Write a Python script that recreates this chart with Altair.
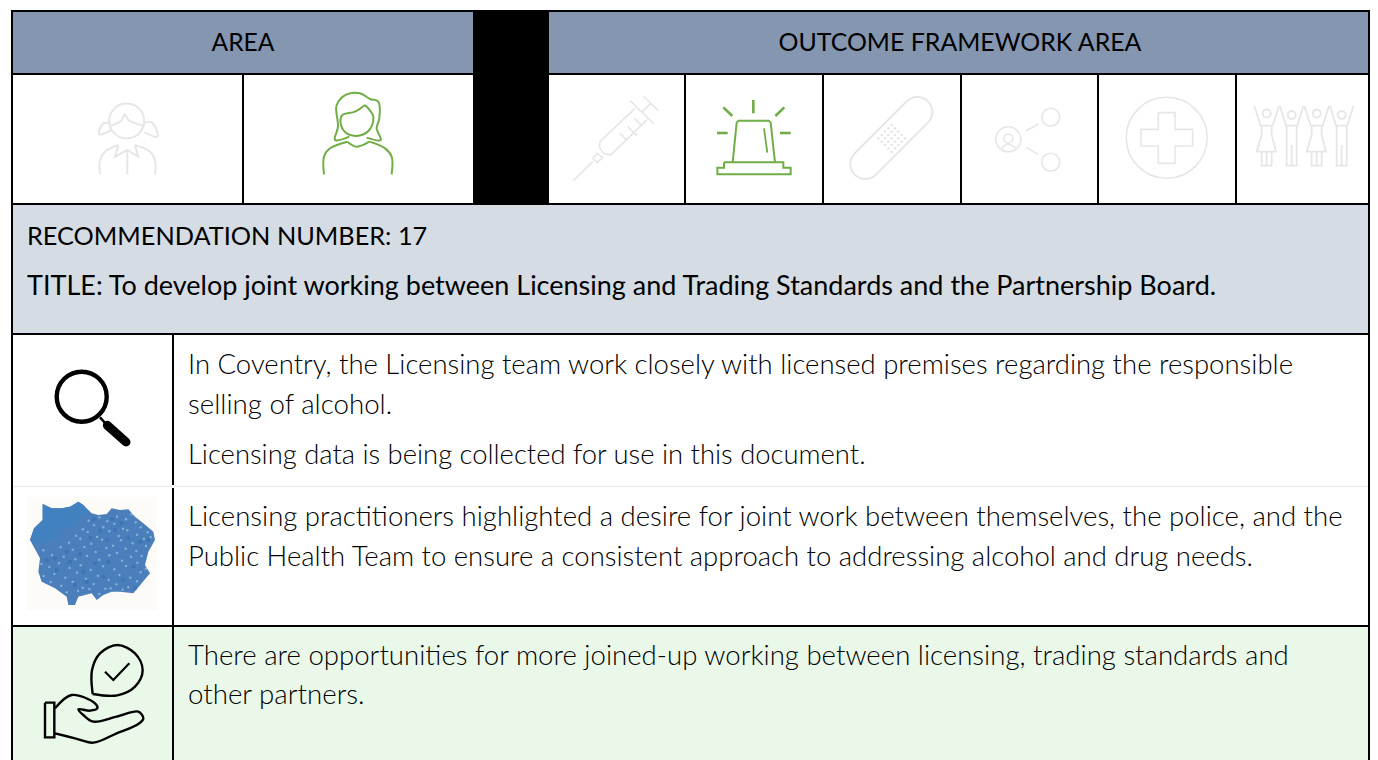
import altair as alt
import pandas as pd

# ---- palette
HEADER = "#8496B0"; BAND = "#D5DCE4"; GREENBG = "#EAF8E9"; BLACK = "#000000"
GREEN = "#70AD47"; GREY = "#E7E6E6"; INK = "#000000"; BLUE = "#4A7FBB"; SPECK = "#A3C6E8"; DEEP = "#3069AD"; PATCH = "#4281C0"

# ---- table geometry (page pixels); the drawing surface ends at x=1370
R = 1369
fills = [
    (12, 473, 11, 74, HEADER), (549, R, 11, 74, HEADER),
    (12, R, 204, 334, BAND), (12, R, 626, 760, GREENBG),
    (473, 549, 11, 204, BLACK),
    (27, 157, 497, 610, "#FDFBF7"),
]
rules_h = [(11, 11, R + 1, 2), (74, 11, R + 1, 2), (204, 11, R + 1, 2), (334, 11, R + 1, 2), (626, 11, R + 1, 2)]
rule_light = [(486.5, 12, R, 1.5)]
rules_v = [(12, 10, 760), (R, 10, 760), (243, 74, 204), (685, 74, 204), (823, 74, 204),
           (961, 74, 204), (1098, 74, 204), (1236, 74, 204), (173, 334, 485), (173, 488, 760)]

rects = []
for a, b, c, d, col in fills:
    rects.append(dict(x=a, x2=b, y=c, y2=d, c=col))
for y, a, b, w in rules_h:
    rects.append(dict(x=a, x2=b, y=y - w / 2, y2=y + w / 2, c=BLACK))
for y, a, b, w in rule_light:
    rects.append(dict(x=a, x2=b, y=y - w / 2, y2=y + w / 2, c="#EDEDED"))
for x, a, b in rules_v:
    rects.append(dict(x=x - 1, x2=x + 1, y=a, y2=b, c=BLACK))

# ---- text
regular = [
    ("AREA", 243, 51, 24.6, "center"),
    ("OUTCOME FRAMEWORK AREA", 960, 51, 24.9, "center"),
    ("RECOMMENDATION NUMBER: 17", 27, 244.5, 25.3, "left"),
    ("TITLE: To develop joint working between Licensing and Trading Standards and the Partnership Board.", 27, 294.5, 27, "left"),
]
light = [
    ("In Coventry, the Licensing team work closely with licensed premises regarding the responsible", 188, 373.5, 27.5),
    ("selling of alcohol.", 188, 413.5, 27.7),
    ("Licensing data is being collected for use in this document.", 188, 463.5, 27.4),
    ("Licensing practitioners highlighted a desire for joint work between themselves, the police, and the", 188, 525.5, 27.55),
    ("Public Health Team to ensure a consistent approach to addressing alcohol and drug needs.", 188, 565.5, 27.5),
    ("There are opportunities for more joined-up working between licensing, trading standards and", 188, 665, 27.6),
    ("other partners.", 188, 704, 27.7),
]
df_reg = pd.DataFrame(regular, columns=["t", "x", "y", "s", "a"])
df_lig = pd.DataFrame(light, columns=["t", "x", "y", "s"])

# ---- icon strokes, each list given in crop coordinates: (origin x, origin y, x-scale, y-scale)
ZG = (85, 95, 3, 3); ZW = (310, 85, 3, 3); ZP = (1240, 95, 3, 3)
Z2 = (540, 70, 3, 3); Z3 = (950, 70, 3, 3); Z4 = (0, 330, 3, 3); Z5 = (0, 620, 3, 3)
strokes = []
def add(frame, pts, col, w, curved=False, cap=False):
    ox, oy, sx, sy = frame
    sid = len(strokes)
    strokes.append(dict(id=sid, col=col, w=w, curved=curved, cap=cap,
                        pts=[(ox + p[0] / sx, oy + p[1] / sy) for p in pts]))

# girl
add(ZG, [(45,238),(45,195),(60,170),(100,150)], GREY, 2, True)
add(ZG, [(210,238),(210,195),(195,170),(150,150)], GREY, 2, True)
add(ZG, [(100,150),(90,185),(127,165),(160,185),(150,150)], GREY, 2)
add(ZG, [(127,165),(127,238)], GREY, 2)
add(ZG, [(78,92),(108,78),(120,58),(130,75),(175,92)], GREY, 2, True)
add(ZG, [(78,85),(55,85),(42,118),(80,105)], GREY, 2, True)
add(ZG, [(175,85),(200,82),(218,125),(178,112)], GREY, 2, True)
# woman
add(ZW, [(118,155),(75,165),(84,125),(80,60),(110,28),(150,25),(180,42),(205,50),(208,100),(200,130),(212,165),(170,158)], GREEN, 2, True)
add(ZW, [(165,60),(135,80),(97,90),(93,120),(110,145),(145,152),(178,135),(190,95),(165,60)], GREEN, 2, True)
add(ZW, [(112,170),(140,185),(178,170)], GREEN, 2, True)
add(ZW, [(42,268),(42,215),(60,190),(112,170)], GREEN, 2, True)
add(ZW, [(178,170),(225,190),(245,215),(245,268)], GREEN, 2, True)
# syringe
add(Z2, [(100,332),(158,275)], GREY, 1.6)
add(Z2, [(158,265),(172,250),(188,262),(172,278),(158,265)], GREY, 1.6)
add(Z2, [(178,232),(180,215),(285,115)], GREY, 1.6)
add(Z2, [(178,232),(190,250),(212,255),(322,148)], GREY, 1.6)
add(Z2, [(270,92),(342,162)], GREY, 1.6)
add(Z2, [(310,78),(355,122)], GREY, 1.6)
add(Z2, [(305,127),(332,100)], GREY, 1.6)
for a, b in [((240,190),(262,212)), ((262,168),(290,196)), ((284,146),(306,168))]:
    add(Z2, [a, b], GREY, 1.6)
# siren
for seg in [[(640,90),(640,130)], [(550,112),(577,138)], [(733,112),(706,138)], [(531,189),(563,189)], [(720,189),(752,189)]]:
    add(Z2, seg, GREEN, 2.6)
add(Z2, [(672,175),(682,248)], GREEN, 1.8)
add(Z2, [(578,277),(590,158),(596,152),(686,152),(692,158),(705,277)], GREEN, 2)
add(Z2, [(552,277),(730,277),(730,293),(752,293),(752,313),(532,313),(532,293),(552,293),(552,277)], GREEN, 2)
# plaster (capsule outline then hollow interior)
add(Z2, [(976,282),(1132,126)], GREY, 32, cap=True)
add(Z2, [(976,282),(1132,126)], "#FFFFFF", 28, cap=True)
# share arms
add(Z3, [(228,183),(265,162)], GREY, 1.6)
add(Z3, [(228,232),(265,253)], GREY, 1.6)
add(Z3, [(155,235),(175,222),(197,235)], GREY, 1.6, True)
# cross
add(Z3, [(625,128),(675,128),(675,178),(728,178),(728,228),(675,228),(675,280),(625,280),(625,228),(573,228),(573,178),(625,178),(625,128)], GREY, 1.6)
# people
for off, kind in [(0,"f"), (75,"m"), (150,"f"), (225,"m")]:
    ox = 80 + off
    if kind == "f":
        add(ZP, [(ox-37,33),(ox-18,92),(ox+18,92),(ox+37,33)], GREY, 1.8)
        add(ZP, [(ox-15,92),(ox-15,120),(ox-30,170),(ox+28,170),(ox+15,120),(ox+15,92)], GREY, 1.8)
        add(ZP, [(ox-15,170),(ox-15,212),(ox+15,212),(ox+15,170)], GREY, 1.8)
        add(ZP, [(ox,170),(ox,212)], GREY, 1.8)
    else:
        add(ZP, [(ox-35,33),(ox-17,92),(ox+17,92),(ox+35,33)], GREY, 1.8)
        add(ZP, [(ox-15,92),(ox-15,212),(ox+15,212),(ox+15,92)], GREY, 1.8)
        add(ZP, [(ox,150),(ox,212)], GREY, 1.8)
# magnifier
add(Z4, [(300,262),(318,282)], BLACK, 2.5)
add(Z4, [(322,286),(378,336)], BLACK, 9, cap=True)
# hand with speech drop
add(Z5, [(278,222),(276,150),(300,100),(352,75),(405,100),(428,150),(405,200),(352,226),(278,222)], BLACK, 2.4, True)
add(Z5, [(315,155),(340,180),(388,130)], BLACK, 2.2)
add(Z5, [(135,248),(163,248),(163,352),(135,352),(135,248)], BLACK, 2.4)
add(Z5, [(165,265),(215,225),(285,250),(292,265),(270,272),(235,268),(250,285),(280,305),(350,290),(415,275),(430,295),(415,312),(350,340),(280,368),(225,355),(165,340)], BLACK, 2.4, True)

line_rows = []
for s in strokes:
    for i, (x, y) in enumerate(s["pts"]):
        line_rows.append(dict(id=s["id"], i=i, x=x, y=y, c=s["col"], w=s["w"], curved=s["curved"], cap=s["cap"]))
df_lines = pd.DataFrame(line_rows)

# ---- circles: centre and diameter in page pixels
rings = [
    (126.7, 121, 35, GREY, 2),
    (1008.3, 139.3, 25, GREY, 1.6), (1008.3, 138.5, 9, GREY, 1.6),
    (1050.7, 117.3, 18, GREY, 1.6), (1050.7, 162.3, 18, GREY, 1.6),
    (1166.7, 137.7, 81, GREY, 1.6),
    (1266.7, 113.5, 8, GREY, 1.8), (1291.7, 115, 8, GREY, 1.8), (1316.7, 113.5, 8, GREY, 1.8), (1341.7, 115, 8, GREY, 1.8),
    (81.7, 396.7, 50, BLACK, 4.4),
]
df_rings = pd.DataFrame([dict(x=a, y=b, s=d * d, c=c, w=w) for a, b, d, c, w in rings])

# plaster dots
dots = [(540 + (1055 + (i + j) * 10) / 3, 70 + (205 + (i - j) * 10) / 3) for i in range(-2, 3) for j in range(-2, 3)]
df_dots = pd.DataFrame(dots, columns=["x", "y"])

# ---- map, crop coordinates with origin (20,490), 3x
def map_px(x, y):
    return 20 + x / 3, 490 + y / 3
map_outline = [(68,42),(95,55),(125,55),(150,50),(175,35),(190,45),(215,70),(235,75),(260,72),(275,55),(300,60),(325,58),(345,80),(370,100),(400,125),(405,150),(385,185),(375,225),(390,250),(365,280),(340,310),(300,305),(275,305),(250,315),(230,330),(215,310),(175,320),(165,345),(145,345),(140,320),(105,295),(65,275),(55,245),(60,205),(30,150),(42,115),(68,90)]
patch_outline = [(68,42),(95,55),(125,55),(150,50),(175,35),(190,45),(205,65),(175,80),(170,105),(130,115),(120,140),(85,150),(55,165),(30,150),(42,115),(68,90)]
cx, cy, half = 93, 555, 80
def to_path(pts):
    parts = []
    for x, y in pts:
        px, py = map_px(x, y)
        parts.append(f"{(px-cx)/half:.4f},{(py-cy)/half:.4f}")
    return "M" + " L".join(parts) + " Z"
df_map = pd.DataFrame([dict(x=cx, y=cy)])

# hand-placed mottling of the map
light_specks_z = [(206,92),(238,82),(262,94),(291,80),(318,88),(335,73),
 (189,118),(222,106),(250,112),(283,101),(309,116),(347,97),(362,112),
 (168,137),(203,126),(231,141),(268,124),(296,138),(322,121),(351,134),(383,127),
 (147,158),(181,146),(214,161),(246,149),(279,167),(303,151),(338,160),(372,146),(392,142),
 (122,172),(158,179),(193,171),(227,186),(259,174),(291,189),(317,176),(349,183),(378,168),
 (70,181),(96,196),(131,200),(166,208),(201,197),(238,209),(268,196),(306,212),(333,201),(365,198),
 (64,222),(88,231),(117,219),(149,234),(182,226),(212,240),(249,229),(283,238),(318,228),(352,218),
 (71,258),(103,252),(136,263),(171,248),(198,266),(234,257),(266,270),(298,255),(331,263),(362,247),(378,236),
 (92,276),(124,287),(158,275),(188,293),(221,282),(256,296),(289,283),(325,292),(351,274),
 (140,307),(174,303),(208,297),(238,312),(272,295),(308,299)]
dark_specks_z = [(221,88),(276,87),(304,100),(240,122),(211,144),(262,150),(325,143),(360,155),(180,192),(150,215),(225,220),(265,215),(340,230),(110,240),(190,245),(250,260),(310,270),(165,285),(105,205),(140,185),(385,150),(285,120),(200,275),(345,295),(80,210)]
df_light = pd.DataFrame([map_px(*p) for p in light_specks_z], columns=["x", "y"])
df_dark = pd.DataFrame([map_px(*p) for p in dark_specks_z], columns=["x", "y"])

# ---- scales: one data unit is one page pixel
W, H = 1362, 752
X = alt.Scale(domain=[8, 8 + W], nice=False, zero=False)
Y = alt.Scale(domain=[8 + H, 8], nice=False, zero=False)
x = alt.X("x:Q", scale=X, axis=None)
y = alt.Y("y:Q", scale=Y, axis=None)

rect_layer = alt.Chart(pd.DataFrame(rects)).mark_rect().encode(
    x=x, x2="x2:Q", y=y, y2="y2:Q", color=alt.Color("c:N", scale=None))

def lines(df, **kw):
    return alt.Chart(df).mark_line(**kw).encode(
        x=x, y=y, detail="id:N", order=alt.Order("i:Q"),
        color=alt.Color("c:N", scale=None), strokeWidth=alt.StrokeWidth("w:Q", scale=None))

line_caps = lines(df_lines[df_lines.cap], strokeCap="round")
line_straight = lines(df_lines[(~df_lines.curved) & (~df_lines.cap)], strokeCap="butt", strokeJoin="miter")
line_curved = lines(df_lines[df_lines.curved], interpolate="catmull-rom", strokeCap="butt")

ring_layer = alt.Chart(df_rings).mark_point(filled=False, opacity=1, shape="circle").encode(
    x=x, y=y, size=alt.Size("s:Q", scale=None), color=alt.Color("c:N", scale=None),
    strokeWidth=alt.StrokeWidth("w:Q", scale=None))
dot_layer = alt.Chart(df_dots).mark_point(filled=True, opacity=1, shape="circle", size=7, color=GREY).encode(x=x, y=y)
map_layer = alt.Chart(df_map).mark_point(filled=True, opacity=1, shape=to_path(map_outline), size=(2 * half) ** 2, color=BLUE).encode(x=x, y=y)
patch_layer = alt.Chart(df_map).mark_point(filled=True, opacity=1, shape=to_path(patch_outline), size=(2 * half) ** 2, color=PATCH).encode(x=x, y=y)
dark_layer = alt.Chart(df_dark).mark_point(filled=True, opacity=0.5, shape="circle", size=18, color=DEEP).encode(x=x, y=y)
light_layer = alt.Chart(df_light).mark_point(filled=True, opacity=0.65, shape="circle", size=6, color=SPECK).encode(x=x, y=y)

def texts(df, align, weight):
    return alt.Chart(df).mark_text(font="Lato", fontWeight=weight, align=align, baseline="alphabetic", color=INK).encode(
        x=x, y=y, text="t:N", size=alt.Size("s:Q", scale=None))

chart = alt.layer(
    rect_layer, line_caps, line_straight, line_curved, ring_layer, dot_layer,
    map_layer, patch_layer, dark_layer, light_layer,
    texts(df_reg[df_reg.a == "center"], "center", 400),
    texts(df_reg[df_reg.a == "left"], "left", 400),
    texts(df_lig, "left", 300),
).properties(width=W, height=H, padding=0, autosize=alt.AutoSizeParams(type="none")
).configure_view(stroke=None)

chart.save("out.html", embed_options={"renderer": "svg", "actions": False})
